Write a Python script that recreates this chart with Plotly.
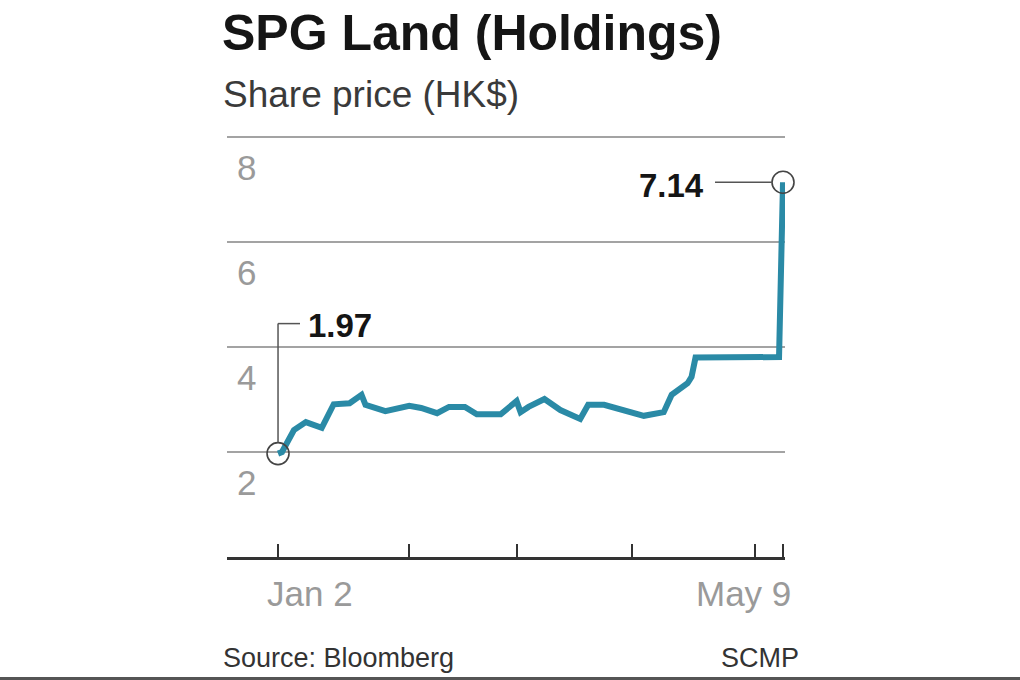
import plotly.graph_objects as go

# ---- data ----
dates = ["2014-01-02", "2014-01-03", "2014-01-06", "2014-01-09", "2014-01-13",
         "2014-01-16", "2014-01-20", "2014-01-23", "2014-01-24", "2014-01-29",
         "2014-02-04", "2014-02-07", "2014-02-11", "2014-02-14", "2014-02-18",
         "2014-02-21", "2014-02-27", "2014-03-03", "2014-03-04", "2014-03-06",
         "2014-03-10", "2014-03-13", "2014-03-14", "2014-03-19", "2014-03-21",
         "2014-03-25", "2014-03-28", "2014-04-01", "2014-04-04", "2014-04-09",
         "2014-04-11", "2014-04-15", "2014-04-16", "2014-04-17", "2014-05-08",
         "2014-05-09"]
prices = [1.97, 2.00, 2.42, 2.57, 2.46,
          2.91, 2.93, 3.09, 2.90, 2.78,
          2.88, 2.84, 2.74, 2.86, 2.86,
          2.72, 2.72, 2.97, 2.76, 2.86,
          3.01, 2.86, 2.80, 2.63, 2.90,
          2.90, 2.84, 2.76, 2.69, 2.76,
          3.09, 3.31, 3.43, 3.80, 3.81,
          7.14]
tick_dates = ["2014-01-02", "2014-02-04", "2014-03-03", "2014-04-01", "2014-05-02", "2014-05-09"]
end_labels = ["Jan 2", "May 9"]
y_ticks = [2, 4, 6, 8]
title = "SPG Land (Holdings)"
subtitle = "Share price (HK$)"
source = "Source: Bloomberg"
credit = "SCMP"

# ---- layout geometry (pixels) ----
W, H = 1020, 680
L, R, T, B = 227, 235, 135, 123
PW, PH = W - L - R, H - T - B


def px(xp):
    return (xp - L) / PW


def py(yp):
    return (H - B - yp) / PH


LINE_COLOR = "#2a8aa6"
FONT = "Liberation Sans"

fig = go.Figure()
fig.add_trace(go.Scatter(x=dates, y=prices, mode="lines",
                         line=dict(color=LINE_COLOR, width=6),
                         cliponaxis=False, hoverinfo="skip", showlegend=False))
fig.add_trace(go.Scatter(x=[dates[0], dates[-1]], y=[prices[0], prices[-1]],
                         mode="markers", cliponaxis=False,
                         marker=dict(symbol="circle-open", size=22,
                                     line=dict(color="#444", width=1.6), color="#444"),
                         hoverinfo="skip", showlegend=False))

shapes = []
# leader for first value
shapes.append(dict(type="line", xref="x", yref="y", xsizemode="pixel", ysizemode="pixel",
                   xanchor=dates[0], yanchor=prices[0], x0=0, x1=0, y0=11, y1=130,
                   line=dict(color="#555", width=1.5)))
shapes.append(dict(type="line", xref="x", yref="y", xsizemode="pixel", ysizemode="pixel",
                   xanchor=dates[0], yanchor=prices[0], x0=0, x1=22, y0=130, y1=130,
                   line=dict(color="#555", width=1.5)))
# leader for last value
shapes.append(dict(type="line", xref="x", yref="y", xsizemode="pixel", ysizemode="pixel",
                   xanchor=dates[-1], yanchor=prices[-1], x0=-68, x1=-11, y0=0, y1=0,
                   line=dict(color="#555", width=1.5)))
# end ticks crossing the baseline
for d in (tick_dates[0], tick_dates[-1]):
    shapes.append(dict(type="line", xref="x", yref="y", ysizemode="pixel", yanchor=0,
                       x0=d, x1=d, y0=-15, y1=13, line=dict(color="#333", width=2)))
# bottom rule
shapes.append(dict(type="line", xref="paper", yref="paper", x0=px(0), x1=px(W),
                   y0=py(678.5), y1=py(678.5), line=dict(color="#555", width=3)))

annotations = [
    dict(text=f"<b>{title}</b>", xref="paper", yref="paper", x=px(220), y=py(33),
         xanchor="left", yanchor="middle", showarrow=False,
         font=dict(family=FONT, size=50, color="#151515")),
    dict(text=subtitle, xref="paper", yref="paper", x=px(221), y=py(94),
         xanchor="left", yanchor="middle", showarrow=False,
         font=dict(family=FONT, size=37, color="#3a3a3a")),
    dict(text=source, xref="paper", yref="paper", x=px(221), y=py(658),
         xanchor="left", yanchor="middle", showarrow=False,
         font=dict(family=FONT, size=27, color="#333")),
    dict(text=credit, xref="paper", yref="paper", x=px(801), y=py(658),
         xanchor="right", yanchor="middle", showarrow=False,
         font=dict(family=FONT, size=27, color="#333")),
    dict(text=f"<b>{prices[0]:.2f}</b>", xref="x", yref="y", x=dates[0], y=prices[0],
         xshift=28, yshift=128, xanchor="left", yanchor="middle", showarrow=False,
         font=dict(family=FONT, size=33, color="#151515")),
    dict(text=f"<b>{prices[-1]:.2f}</b>", xref="x", yref="y", x=dates[-1], y=prices[-1],
         xshift=-77, yshift=-3, xanchor="right", yanchor="middle", showarrow=False,
         font=dict(family=FONT, size=33, color="#151515")),
    dict(text=end_labels[0], xref="x", yref="paper", x=tick_dates[0], y=py(593),
         xshift=-13, xanchor="left", yanchor="middle", showarrow=False,
         font=dict(family=FONT, size=35, color="#9a9a9a")),
    dict(text=end_labels[1], xref="x", yref="paper", x=tick_dates[-1], y=py(593),
         xshift=10, xanchor="right", yanchor="middle", showarrow=False,
         font=dict(family=FONT, size=35, color="#9a9a9a")),
]

fig.update_layout(
    width=W, height=H,
    margin=dict(l=L, r=R, t=T, b=B, pad=0),
    paper_bgcolor="white", plot_bgcolor="white",
    shapes=shapes, annotations=annotations,
    showlegend=False,
    xaxis=dict(type="date", range=["2013-12-20 04:00", "2014-05-09 12:00"],
               tickvals=tick_dates, showticklabels=False,
               ticks="inside", ticklen=13, tickwidth=2, tickcolor="#333",
               showgrid=False, zeroline=False,
               showline=True, linecolor="#333", linewidth=3, fixedrange=True),
    yaxis=dict(range=[0, 8.04], tickvals=y_ticks, ticktext=[str(v) for v in y_ticks],
               ticks="", showline=False, zeroline=False,
               showgrid=True, gridcolor="#a3a3a3", gridwidth=2,
               ticklabelposition="inside", ticklabelstandoff=7, ticklabelshift=31,
               tickfont=dict(family=FONT, size=35, color="#9a9a9a"), fixedrange=True),
)

fig.write_html("out.html", config={"displayModeBar": False},
               post_script="document.body.style.margin='0';document.body.style.padding='0';window.dispatchEvent(new Event('resize'));")
